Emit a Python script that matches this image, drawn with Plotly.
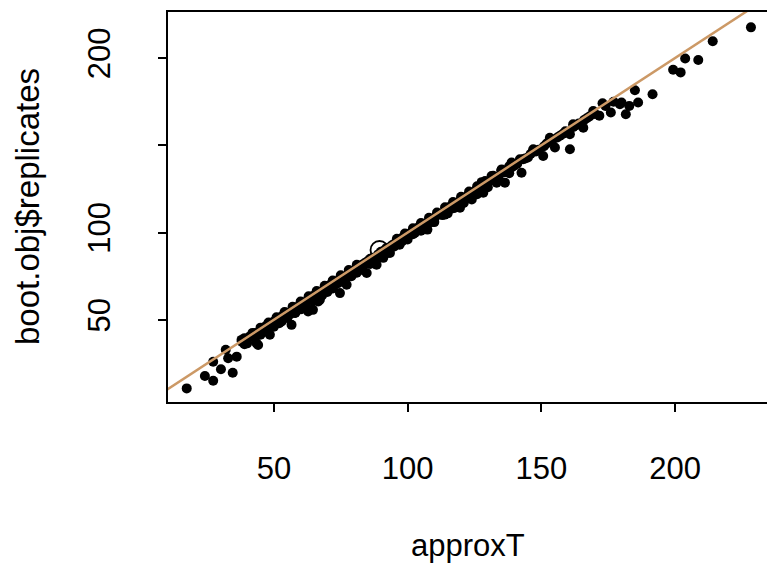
import plotly.graph_objects as go

# Bootstrap replicates vs approximation
approx_T = [17.4, 24.2, 27.3, 27.3, 30.2, 34.6, 32.0, 32.9, 36.1, 37.9, 43.5, 44.1, 48.5,
            52.9, 56.6, 57.9, 62.8, 64.6, 66.6, 67.2, 74.7, 72.2, 77.2, 82.8, 84.7, 88.4,
            90.9, 93.4, 94.6, 102.7, 107.4, 113.9, 117.7, 119.6, 124.0, 128.3, 127.7, 131.4,
            133.3, 136.4, 135.2, 138.9, 142.6, 143.2, 147.0, 150.7, 153.2, 155.1, 160.7,
            160.7, 165.7, 161.9, 169.4, 171.7, 172.9, 176.0, 179.4, 181.6, 180.0, 182.9,
            186.2, 185.0, 191.6, 199.3, 202.1, 203.8, 208.7, 214.1, 228.4,
            # dense band along the diagonal
            38, 40, 41, 42, 43, 45, 46, 47, 49, 50, 51, 53, 54, 55, 57, 58, 59, 60, 61, 63,
            64, 65, 66, 68, 69, 70, 71, 73, 74, 75, 76, 78, 79, 80, 81, 83, 84, 85, 86, 87,
            89, 90, 91, 92, 94, 95, 96, 97, 98, 99, 100, 101, 103, 104, 105, 106, 108, 109,
            110, 111, 112, 114, 115, 116, 118, 119, 120, 121, 122, 123, 125, 126, 127, 129,
            130, 132, 134, 136, 137, 139, 140, 141, 144, 145, 146, 148, 149, 151, 152, 154,
            156, 157, 158, 159, 162, 163, 164, 166, 167, 168, 170, 174, 177,
            # lower edge of the band
            40, 45, 48, 50, 52, 55, 58, 60, 62, 65, 68, 70, 72, 76, 79, 81, 86, 92, 97, 100,
            105, 110, 115, 121, 126, 130, 134, 138,
            # upper edge of the band (touching the line)
            39, 42, 45, 48, 51, 54, 57, 60, 63, 66, 69, 72, 75, 78, 81,
            96, 99, 102, 105, 108, 111, 114, 117, 120, 123, 126, 129, 132, 135, 138, 142, 147,
            # middle of the band
            39, 43, 46, 49, 52, 56, 59, 62, 65, 67, 71, 74, 77, 80, 83, 86, 89, 92, 95, 98,
            102, 106, 109, 113, 117, 121, 125, 129]
replicates = [10.7, 17.8, 15.1, 26.0, 21.7, 19.7, 32.8, 28.0, 28.9, 38.5, 36.6, 35.6, 41.4,
              49.0, 47.1, 53.9, 54.8, 55.7, 60.5, 61.5, 65.3, 69.1, 70.1, 78.7, 76.8, 81.6,
              85.5, 88.3, 92.1, 99.8, 101.7, 110.3, 114.2, 114.2, 119.0, 122.8, 128.9, 132.4,
              128.6, 128.6, 136.2, 140.1, 134.3, 142.0, 147.7, 143.9, 154.3, 148.7, 147.7,
              156.3, 160.1, 162.1, 169.7, 167.0, 174.1, 168.8, 173.6, 167.8, 174.5, 172.6,
              174.5, 181.6, 179.3, 193.3, 191.8, 199.8, 198.9, 209.6, 217.6,
              37.5, 38.5, 40.5, 41.0, 42.5, 44.0, 45.0, 46.5, 47.5, 49.0, 50.0, 52.0, 52.5,
              54.0, 55.5, 57.0, 57.5, 59.0, 60.0, 61.5, 62.5, 64.0, 64.5, 66.5, 67.5, 68.5,
              70.0, 71.5, 72.5, 74.0, 74.5, 76.5, 77.5, 78.5, 80.0, 81.5, 82.5, 83.5, 85.0,
              85.5, 87.5, 89.0, 89.5, 91.0, 92.5, 93.5, 95.0, 95.5, 97.0, 97.5, 99.0, 99.5,
              101.5, 103.0, 103.5, 105.0, 106.5, 107.5, 108.5, 110.0, 110.5, 112.5, 113.5,
              115.0, 116.5, 117.5, 118.5, 120.0, 120.5, 122.0, 123.5, 124.5, 125.5, 127.5,
              128.5, 130.5, 132.0, 134.5, 135.5, 137.5, 138.5, 139.5, 142.5, 143.0, 145.0,
              146.5, 147.5, 149.5, 151.0, 152.5, 154.5, 155.5, 156.5, 158.0, 160.5, 161.5,
              162.5, 164.5, 165.5, 166.5, 168.0, 172.5, 175.0,
              36.5, 41.5, 44.5, 46.0, 48.0, 51.0, 54.0, 56.0, 58.0, 61.0, 64.0, 66.0, 68.0,
              72.0, 75.0, 77.0, 82.0, 88.0, 93.0, 96.0, 101.0, 106.0, 111.0, 117.0, 122.0,
              126.0, 130.0, 134.0,
              39.5, 42.5, 45.5, 48.5, 51.5, 54.5, 57.5, 60.5, 63.5, 66.5, 69.5, 72.5, 75.5,
              78.5, 81.5,
              96.5, 99.5, 102.5, 105.5, 108.5, 111.5, 114.5, 117.5, 120.5, 123.5, 126.5,
              129.5, 132.5, 135.5, 138.0, 142.0, 147.0,
              36.0, 40.0, 43.0, 46.0, 49.0, 53.0, 56.0, 59.0, 62.0, 64.0, 68.0, 71.0, 74.0,
              77.0, 80.0, 83.0, 86.0, 89.0, 92.0, 95.0, 99.0, 103.0, 106.0, 110.0, 114.0,
              118.0, 122.0, 126.0]

t0_x = [89.5]
t0_y = [90.0]

abline_intercept = 0.0
abline_slope = 1.0

x_range = [10.4, 234.4]
y_range = [2.9, 226.4]
x_ticks = [50, 100, 150, 200]
y_ticks = [50, 100, 150, 200]
y_ticktext = ["50", "100", "", "200"]

FONT = "Liberation Sans, Arial, sans-serif"

fig = go.Figure()
fig.add_trace(go.Scatter(x=approx_T, y=replicates, mode="markers",
                         marker=dict(color="black", size=10, line=dict(width=0)),
                         showlegend=False, hoverinfo="skip"))
fig.add_trace(go.Scatter(x=t0_x, y=t0_y, mode="markers",
                         marker=dict(symbol="circle-open", color="black", size=18,
                                     line=dict(width=1.8, color="black")),
                         showlegend=False))
lx = [x_range[0] - 10, x_range[1] + 10]
ly = [abline_intercept + abline_slope * v for v in lx]
fig.add_trace(go.Scatter(x=lx, y=ly, mode="lines",
                         line=dict(color="#CC9966", width=2.5),
                         showlegend=False, hoverinfo="skip"))

fig.update_layout(
    width=767, height=564,
    margin=dict(l=168, r=0, t=12, b=162),
    paper_bgcolor="white", plot_bgcolor="white",
    font=dict(family=FONT, size=31, color="black"),
    xaxis=dict(range=x_range, tickvals=x_ticks, ticktext=[str(v) for v in x_ticks],
               showgrid=False, zeroline=False, showline=True, linecolor="black",
               linewidth=2, mirror=True, ticks="outside", ticklen=8, tickwidth=2,
               tickcolor="black", ticklabelstandoff=30,
               tickfont=dict(family=FONT, size=31)),
    yaxis=dict(range=y_range, tickvals=y_ticks, ticktext=y_ticktext,
               showgrid=False, zeroline=False, showline=True, linecolor="black",
               linewidth=2, mirror=False, ticks="outside", ticklen=8, tickwidth=2,
               tickcolor="black", tickangle=-90, ticklabelstandoff=36,
               tickfont=dict(family=FONT, size=31)),
    annotations=[
        dict(text="approxT", xref="paper", yref="paper", x=0.5, y=0,
             xanchor="center", yanchor="middle", yshift=-143, showarrow=False,
             font=dict(family=FONT, size=31)),
        dict(text="boot.obj$replicates", xref="paper", yref="paper", x=0, y=0.5,
             xanchor="center", yanchor="middle", xshift=-141, textangle=-90,
             showarrow=False, font=dict(family=FONT, size=33)),
    ],
)

fig.write_html("out.html")
